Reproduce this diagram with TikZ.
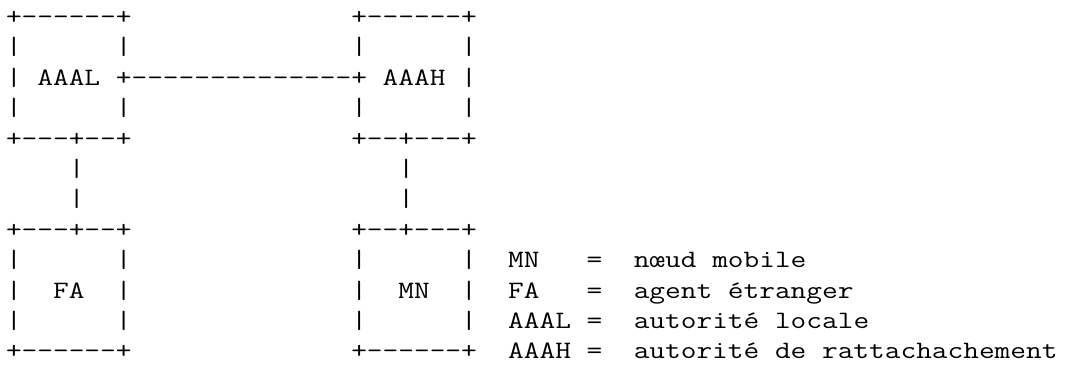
\documentclass[tikz,border=0pt]{standalone}
\usepackage{fontspec}
\usepackage{graphicx}
\tikzset{
  asciirow/.style={anchor=base west, inner sep=0pt, outer sep=0pt,
    font=\ttfamily\fontsize{25}{25}\selectfont}
}
\newcommand{\rowy}[1]{365-24.5-30.4*#1}
\newcommand{\stretchtxt}[1]{\scalebox{1.219}[1]{#1}}
\begin{document}
\begin{tikzpicture}[x=1pt,y=1pt]
\useasboundingbox (0,0) rectangle (1080,365);
\node[asciirow] (row0)  at (6,{\rowy{0}})  {\stretchtxt{+------+~~~~~~~~~~~~~~+------+}};
\node[asciirow] (row1)  at (6,{\rowy{1}})  {\stretchtxt{|~~~~~~|~~~~~~~~~~~~~~|~~~~~~|}};
\node[asciirow] (row2)  at (6,{\rowy{2}})  {\stretchtxt{|~AAAL~+--------------+~AAAH~|}};
\node[asciirow] (row3)  at (6,{\rowy{3}})  {\stretchtxt{|~~~~~~|~~~~~~~~~~~~~~|~~~~~~|}};
\node[asciirow] (row4)  at (6,{\rowy{4}})  {\stretchtxt{+---+--+~~~~~~~~~~~~~~+--+---+}};
\node[asciirow] (row5)  at (6,{\rowy{5}})  {\stretchtxt{~~~~|~~~~~~~~~~~~~~~~~~~~|}};
\node[asciirow] (row6)  at (6,{\rowy{6}})  {\stretchtxt{~~~~|~~~~~~~~~~~~~~~~~~~~|}};
\node[asciirow] (row7)  at (6,{\rowy{7}})  {\stretchtxt{+---+--+~~~~~~~~~~~~~~+--+---+}};
\node[asciirow] (row8)  at (6,{\rowy{8}})  {\stretchtxt{|~~~~~~|~~~~~~~~~~~~~~|~~~~~~|~~MN~~~=~~nœud~mobile}};
\node[asciirow] (row9)  at (6,{\rowy{9}})  {\stretchtxt{|~~FA~~|~~~~~~~~~~~~~~|~~MN~~|~~FA~~~=~~agent~étranger}};
\node[asciirow] (row10) at (6,{\rowy{10}}) {\stretchtxt{|~~~~~~|~~~~~~~~~~~~~~|~~~~~~|~~AAAL~=~~autorité~locale}};
\node[asciirow] (row11) at (6,{\rowy{11}}) {\stretchtxt{+------+~~~~~~~~~~~~~~+------+~~AAAH~=~~autorité~de~rattachachement}};
\end{tikzpicture}
\end{document}
